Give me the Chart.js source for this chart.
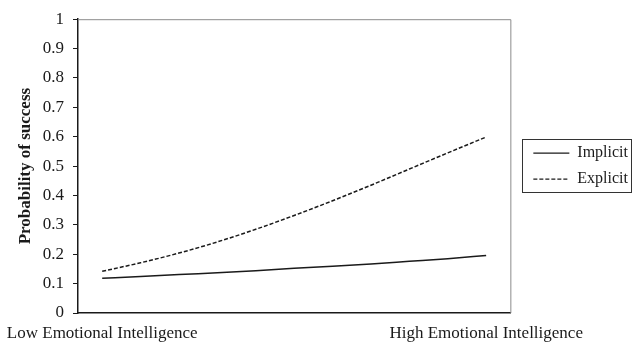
<!DOCTYPE html>
<html>
<head>
    <title>Probability of success</title>
    <script src="https://cdn.jsdelivr.net/npm/chart.js"></script>
    <style>
        body { margin: 0; background: #fff; }
        #box { width: 634px; height: 345px; }
    </style>
</head>
<body>
    <div id="box">
        <canvas id="myChart" width="634" height="345"></canvas>
    </div>
    <script>
        // x positions along the emotional intelligence range (0 = low, 10 = high)
        const xSteps = [0, 1, 2, 3, 4, 5, 6, 7, 8, 9, 10];
        const implicitValues = [0.118, 0.124, 0.131, 0.137, 0.144, 0.152, 0.159, 0.167, 0.176, 0.185, 0.196];
        const explicitValues = [0.142, 0.171, 0.204, 0.242, 0.285, 0.332, 0.382, 0.435, 0.490, 0.545, 0.599];
        const xTickValues = [0, 10];
        const xTickLabels = ['Low Emotional Intelligence', 'High Emotional Intelligence'];
        const seriesNames = ['Implicit', 'Explicit'];

        const serif = "'Liberation Serif', 'Times New Roman', serif";
        const ink = '#1a1a1a';

        function toPoints(values) {
            return values.map((v, i) => ({ x: xSteps[i], y: v }));
        }

        // gray frame on top/right of the plot, box around legend
        const framePlugin = {
            id: 'frame',
            afterLayout(chart) {
                const lg = chart.legend;
                const a = chart.chartArea;
                if (!lg) return;
                // leave a gap between plot and legend, center legend on the plot
                lg.left += 13;
                lg.right += 13;
                lg.top = a.top;
                lg.bottom = a.bottom;
                lg.height = a.bottom - a.top;
            },
            beforeDatasetsDraw(chart) {
                const { ctx, chartArea: a } = chart;
                ctx.save();
                ctx.strokeStyle = '#8c8c8c';
                ctx.lineWidth = 1;
                ctx.beginPath();
                ctx.moveTo(a.left, a.top + 0.5);
                ctx.lineTo(a.right + 0.5, a.top + 0.5);
                ctx.lineTo(a.right + 0.5, a.bottom);
                ctx.stroke();
                ctx.restore();
            },
            afterDraw(chart) {
                const lg = chart.legend;
                if (!lg || !lg.legendHitBoxes.length) return;
                const hb = lg.legendHitBoxes;
                const first = hb[0], last = hb[hb.length - 1];
                const ctx = chart.ctx;
                const left = first.left - 11;
                const top = first.top - 6;
                const bottom = last.top + last.height + 5;
                const right = left + 109;
                ctx.save();
                ctx.strokeStyle = '#333';
                ctx.lineWidth = 1;
                ctx.strokeRect(Math.round(left) + 0.5, Math.round(top) + 0.5, Math.round(right - left), Math.round(bottom - top));
                ctx.restore();
            }
        };

        const ctx = document.getElementById('myChart').getContext('2d');
        const myChart = new Chart(ctx, {
            type: 'line',
            data: {
                datasets: [
                    {
                        label: seriesNames[0],
                        data: toPoints(implicitValues),
                        borderColor: ink,
                        borderWidth: 1.5,
                        pointRadius: 0,
                        cubicInterpolationMode: 'monotone',
                        fill: false
                    },
                    {
                        label: seriesNames[1],
                        data: toPoints(explicitValues),
                        borderColor: ink,
                        borderWidth: 1.5,
                        borderDash: [4, 2],
                        pointRadius: 0,
                        cubicInterpolationMode: 'monotone',
                        fill: false
                    }
                ]
            },
            options: {
                responsive: false,
                animation: false,
                layout: {
                    padding: { top: 13, right: 9, bottom: 0, left: 0 }
                },
                plugins: {
                    tooltip: { enabled: false },
                    legend: {
                        position: 'right',
                        labels: {
                            usePointStyle: true,
                            pointStyle: 'line',
                            pointStyleWidth: 36,
                            padding: 10,
                            color: ink,
                            font: { family: serif, size: 16 },
                            generateLabels(chart) {
                                const items = Chart.defaults.plugins.legend.labels.generateLabels(chart);
                                items.forEach(item => {
                                    const ds = chart.data.datasets[item.datasetIndex];
                                    item.lineDash = ds.borderDash || [];
                                    item.lineWidth = 1.3;
                                    item.strokeStyle = ink;
                                });
                                return items;
                            }
                        }
                    }
                },
                scales: {
                    x: {
                        type: 'linear',
                        min: -0.63,
                        max: 10.63,
                        afterBuildTicks(scale) {
                            scale.ticks = xTickValues.map(v => ({ value: v }));
                        },
                        afterFit(scale) {
                            scale.height = 32;
                        },
                        grid: { display: false, drawTicks: false },
                        border: { display: true, color: ink, width: 1.5 },
                        ticks: {
                            padding: 0,
                            maxRotation: 0,
                            color: ink,
                            font: { family: serif, size: 17, lineHeight: 2.41 },
                            callback(value) {
                                const i = xTickValues.indexOf(value);
                                return i >= 0 ? xTickLabels[i] : '';
                            }
                        }
                    },
                    y: {
                        min: 0,
                        max: 1,
                        afterFit(scale) {
                            scale.width = 78;
                        },
                        grid: {
                            display: true,
                            drawOnChartArea: false,
                            drawTicks: true,
                            tickLength: 5,
                            tickColor: ink
                        },
                        border: { display: true, color: ink, width: 1.5 },
                        ticks: {
                            stepSize: 0.1,
                            padding: 9,
                            color: ink,
                            font: { family: serif, size: 17 },
                            callback(value) {
                                return String(Math.round(value * 10) / 10);
                            }
                        },
                        title: {
                            display: true,
                            text: 'Probability of success',
                            color: ink,
                            padding: { top: 15, bottom: 4 },
                            font: { family: serif, size: 17, weight: 'bold' }
                        }
                    }
                }
            },
            plugins: [framePlugin]
        });
    </script>
</body>
</html>
